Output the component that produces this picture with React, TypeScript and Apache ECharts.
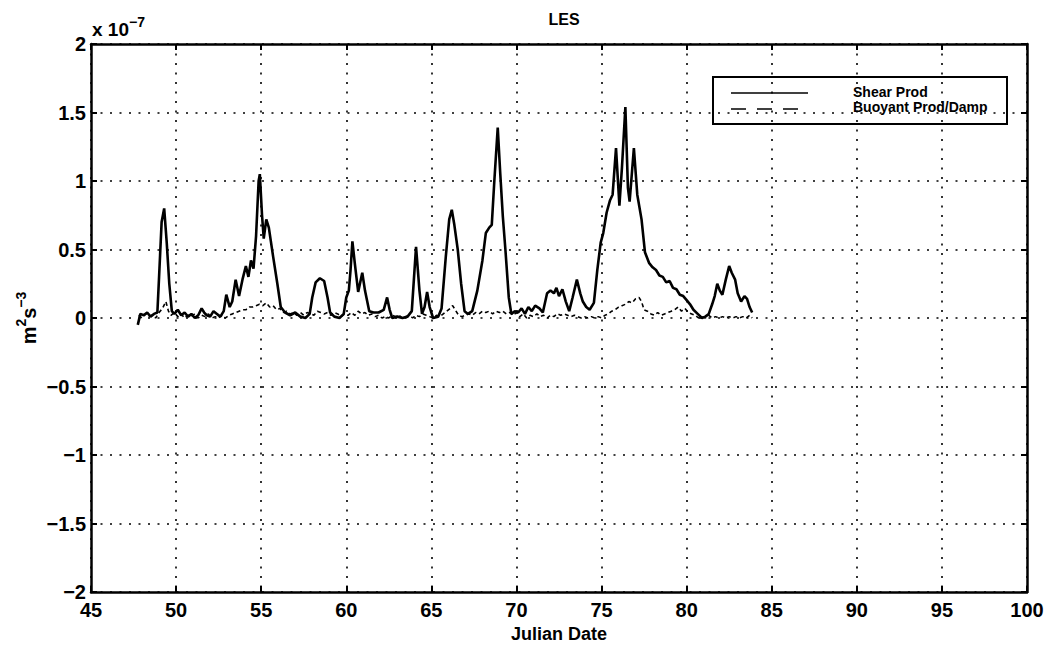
import React, { useEffect, useRef } from "react";
import * as echarts from "echarts";

// Values in units of 1e-7 m^2 s^-3
const shearProd: [number, number][] = [
  [47.75, -0.05], [47.9, 0.03], [48.1, 0.02], [48.3, 0.04], [48.5, 0.01], [48.7, 0.03], [48.9, 0.04],
  [49.0, 0.3], [49.15, 0.7], [49.3, 0.8], [49.45, 0.55], [49.6, 0.25], [49.75, 0.05], [49.9, 0.03],
  [50.1, 0.06], [50.3, 0.02], [50.5, 0.04], [50.7, 0.01], [50.9, 0.03], [51.1, 0.0], [51.3, 0.02],
  [51.5, 0.07], [51.65, 0.04], [51.8, 0.02], [52.0, 0.01], [52.2, 0.05], [52.4, 0.03], [52.6, 0.01],
  [52.8, 0.05], [52.95, 0.17], [53.15, 0.08], [53.3, 0.12], [53.5, 0.28], [53.7, 0.16], [53.9, 0.28],
  [54.1, 0.38], [54.25, 0.3], [54.4, 0.42], [54.55, 0.36], [54.7, 0.6], [54.85, 1.0], [54.92, 1.05],
  [55.05, 0.75], [55.15, 0.58], [55.3, 0.72], [55.45, 0.66], [55.7, 0.45], [55.95, 0.25], [56.15, 0.08],
  [56.4, 0.04], [56.7, 0.02], [57.0, 0.04], [57.3, 0.01], [57.6, 0.0], [57.85, 0.03], [58.0, 0.15],
  [58.2, 0.26], [58.45, 0.29], [58.7, 0.27], [58.9, 0.15], [59.05, 0.04], [59.3, 0.01], [59.6, 0.0],
  [59.85, 0.03], [60.0, 0.15], [60.15, 0.2], [60.25, 0.35], [60.36, 0.56], [60.5, 0.4], [60.7, 0.19],
  [60.94, 0.33], [61.1, 0.2], [61.35, 0.05], [61.6, 0.04], [61.9, 0.04], [62.2, 0.06], [62.4, 0.15],
  [62.55, 0.06], [62.7, 0.0], [63.0, 0.01], [63.3, 0.0], [63.6, 0.01], [63.85, 0.05], [64.1, 0.52],
  [64.3, 0.2], [64.45, 0.03], [64.6, 0.08], [64.75, 0.19], [64.9, 0.08], [65.1, 0.0], [65.4, 0.01],
  [65.6, 0.07], [65.85, 0.45], [66.05, 0.72], [66.2, 0.79], [66.35, 0.68], [66.55, 0.5], [66.75, 0.25],
  [66.95, 0.05], [67.15, 0.03], [67.4, 0.05], [67.7, 0.2], [68.0, 0.42], [68.2, 0.62], [68.4, 0.66],
  [68.55, 0.68], [68.7, 1.0], [68.9, 1.39], [69.05, 1.05], [69.2, 0.74], [69.35, 0.5], [69.55, 0.15],
  [69.7, 0.03], [69.9, 0.05], [70.1, 0.04], [70.3, 0.07], [70.5, 0.03], [70.7, 0.08], [70.9, 0.05],
  [71.1, 0.09], [71.35, 0.07], [71.55, 0.04], [71.8, 0.18], [72.0, 0.2], [72.2, 0.18], [72.35, 0.22],
  [72.5, 0.16], [72.7, 0.21], [72.9, 0.12], [73.1, 0.05], [73.3, 0.15], [73.55, 0.28], [73.75, 0.18],
  [73.9, 0.12], [74.1, 0.08], [74.3, 0.06], [74.55, 0.11], [74.75, 0.35], [74.95, 0.55], [75.1, 0.62],
  [75.3, 0.77], [75.5, 0.86], [75.65, 0.9], [75.85, 1.24], [76.05, 0.82], [76.2, 1.1], [76.4, 1.54],
  [76.55, 0.95], [76.65, 0.85], [76.9, 1.24], [77.1, 0.9], [77.35, 0.72], [77.55, 0.48], [77.8, 0.4],
  [78.0, 0.37], [78.2, 0.35], [78.4, 0.31], [78.6, 0.3], [78.8, 0.26], [79.0, 0.27], [79.2, 0.22],
  [79.4, 0.21], [79.6, 0.17], [79.8, 0.16], [80.0, 0.13], [80.2, 0.1], [80.4, 0.06], [80.65, 0.03],
  [80.9, 0.0], [81.1, 0.01], [81.3, 0.03], [81.5, 0.1], [81.65, 0.16], [81.8, 0.25], [81.95, 0.2],
  [82.1, 0.17], [82.3, 0.28], [82.5, 0.38], [82.65, 0.33], [82.85, 0.28], [83.0, 0.18], [83.2, 0.12],
  [83.4, 0.16], [83.55, 0.14], [83.7, 0.08], [83.85, 0.04],
];

const buoyantProd: [number, number][] = [
  [47.8, 0.02], [48.0, 0.0], [48.2, 0.03], [48.4, 0.01], [48.6, 0.02], [48.8, 0.0], [49.0, 0.04],
  [49.2, 0.07], [49.4, 0.12], [49.55, 0.05], [49.7, 0.02], [49.9, 0.04], [50.1, 0.01], [50.3, 0.03],
  [50.5, 0.0], [50.7, 0.02], [50.9, 0.01], [51.1, 0.03], [51.3, 0.0], [51.5, 0.02], [51.7, 0.01],
  [51.9, 0.03], [52.1, 0.0], [52.3, 0.01], [52.5, 0.0], [52.7, 0.02], [52.9, 0.0], [53.1, 0.02],
  [53.3, 0.03], [53.5, 0.04], [53.7, 0.05], [53.9, 0.06], [54.1, 0.06], [54.3, 0.08], [54.5, 0.08],
  [54.7, 0.09], [54.9, 0.1], [55.1, 0.09], [55.3, 0.11], [55.5, 0.08], [55.7, 0.09], [55.9, 0.06],
  [56.1, 0.07], [56.3, 0.04], [56.5, 0.05], [56.7, 0.03], [56.9, 0.04], [57.1, 0.02], [57.3, 0.04],
  [57.5, 0.02], [57.7, 0.04], [57.9, 0.03], [58.1, 0.02], [58.3, 0.05], [58.5, 0.04], [58.7, 0.03],
  [58.9, 0.04], [59.1, 0.02], [59.3, 0.04], [59.5, 0.03], [59.7, 0.01], [59.9, 0.03], [60.1, 0.02],
  [60.3, 0.04], [60.5, 0.02], [60.7, 0.05], [60.9, 0.03], [61.1, 0.04], [61.3, 0.02], [61.5, 0.03],
  [61.7, 0.01], [61.9, 0.02], [62.1, 0.0], [62.3, 0.01], [62.5, 0.0], [62.7, 0.02], [62.9, 0.01],
  [63.1, 0.02], [63.3, 0.0], [63.5, 0.01], [63.7, 0.02], [63.9, 0.0], [64.1, 0.02], [64.3, 0.01],
  [64.5, 0.03], [64.7, 0.02], [64.9, 0.01], [65.1, 0.0], [65.3, 0.02], [65.5, 0.01], [65.7, 0.03],
  [65.9, 0.05], [66.1, 0.07], [66.25, 0.09], [66.4, 0.06], [66.6, 0.02], [66.8, 0.01], [67.0, 0.02],
  [67.2, 0.03], [67.4, 0.02], [67.6, 0.04], [67.8, 0.03], [68.0, 0.05], [68.2, 0.04], [68.4, 0.05],
  [68.6, 0.03], [68.8, 0.05], [69.0, 0.04], [69.2, 0.05], [69.4, 0.03], [69.6, 0.04], [69.8, 0.02],
  [70.0, 0.04], [70.2, 0.01], [70.4, 0.03], [70.6, 0.0], [70.8, 0.02], [71.0, 0.01], [71.2, 0.03],
  [71.4, 0.01], [71.6, 0.02], [71.8, 0.0], [72.0, 0.02], [72.2, 0.01], [72.4, 0.03], [72.6, 0.02],
  [72.8, 0.03], [73.0, 0.02], [73.2, 0.01], [73.4, 0.02], [73.6, 0.01], [73.8, 0.0], [74.0, 0.01],
  [74.2, 0.0], [74.4, 0.01], [74.6, 0.0], [74.8, 0.01], [75.0, 0.0], [75.2, 0.02], [75.4, 0.03],
  [75.6, 0.05], [75.8, 0.06], [76.0, 0.08], [76.2, 0.09], [76.4, 0.1], [76.6, 0.12], [76.8, 0.11],
  [77.0, 0.14], [77.2, 0.15], [77.35, 0.12], [77.5, 0.06], [77.7, 0.05], [77.9, 0.03], [78.1, 0.02],
  [78.3, 0.04], [78.5, 0.02], [78.7, 0.03], [78.9, 0.04], [79.1, 0.05], [79.3, 0.06], [79.5, 0.08],
  [79.7, 0.05], [79.9, 0.07], [80.1, 0.04], [80.3, 0.03], [80.5, 0.02], [80.7, 0.0], [80.9, 0.01],
  [81.1, 0.0], [81.3, 0.02], [81.5, 0.0], [81.7, 0.01], [81.9, 0.0], [82.1, 0.01], [82.3, 0.0],
  [82.5, 0.01], [82.7, 0.0], [82.9, 0.01], [83.1, 0.0], [83.3, 0.01], [83.5, 0.0], [83.7, 0.02],
  [83.85, 0.0],
];

const seriesNames = ["Shear Prod", "Buoyant Prod/Damp"];
const titleText = "LES";
const xName = "Julian Date";

const FONT = "'Liberation Sans', Arial, Helvetica, sans-serif";

export default function App() {
  const ref = useRef<HTMLDivElement>(null);

  useEffect(() => {
    document.body.style.margin = "0";
    const chart = echarts.init(ref.current!, null, { renderer: "svg" });
    const fmtY = (v: number) => (v < 0 ? "\u2212" + Math.abs(v) : String(v));
    const dotted = { color: "#000", width: 1.6, type: [2, 7.5] as number[] };
    chart.setOption({
      animation: false,
      backgroundColor: "#fff",
      textStyle: { fontFamily: FONT },
      title: {
        text: titleText,
        left: 559,
        textAlign: "center",
        top: 6,
        textStyle: { fontFamily: FONT, fontSize: 16, fontWeight: "bold", color: "#000" },
      },
      grid: { left: 91, right: 22, top: 44, bottom: 59, containLabel: false },
      xAxis: [
        {
          type: "value",
          min: 45,
          max: 100,
          interval: 5,
          name: xName,
          nameLocation: "middle",
          nameGap: 33,
          nameTextStyle: { fontFamily: FONT, fontSize: 18, fontWeight: "bold", color: "#000" },
          axisLine: { show: true, onZero: false, lineStyle: { color: "#000", width: 2.5 } },
          axisTick: { show: true, inside: true, length: 6, lineStyle: { color: "#000", width: 2 } },
          axisLabel: { fontFamily: FONT, fontSize: 20, fontWeight: "bold", color: "#000", margin: 8 },
          splitLine: { show: true, lineStyle: dotted },
        },
        {
          type: "value",
          position: "top",
          min: 45,
          max: 100,
          interval: 5,
          axisLine: { show: true, onZero: false, lineStyle: { color: "#000", width: 2.5 } },
          axisTick: { show: true, inside: true, length: 6, lineStyle: { color: "#000", width: 2 } },
          axisLabel: { show: false },
          splitLine: { show: false },
        },
      ],
      yAxis: [
        {
          type: "value",
          min: -2,
          max: 2,
          interval: 0.5,
          axisLine: { show: true, onZero: false, lineStyle: { color: "#000", width: 2.5 } },
          axisTick: { show: true, inside: true, length: 6, lineStyle: { color: "#000", width: 2 } },
          axisLabel: { fontFamily: FONT, fontSize: 20, fontWeight: "bold", color: "#000", margin: 5, formatter: fmtY },
          splitLine: { show: true, lineStyle: dotted },
        },
        {
          type: "value",
          position: "right",
          min: -2,
          max: 2,
          interval: 0.5,
          axisLine: { show: true, onZero: false, lineStyle: { color: "#000", width: 2.5 } },
          axisTick: { show: true, inside: true, length: 6, lineStyle: { color: "#000", width: 2 } },
          axisLabel: { show: false },
          splitLine: { show: false },
        },
      ],
      series: [
        {
          name: seriesNames[0],
          type: "line",
          data: shearProd,
          showSymbol: false,
          smooth: false,
          lineStyle: { color: "#000", width: 2.6 },
          z: 3,
        },
        {
          name: seriesNames[1],
          type: "line",
          data: buoyantProd,
          showSymbol: false,
          lineStyle: { color: "#000", width: 1.6, type: [4, 3] },
          z: 2,
        },
      ],
      graphic: [
        {
          type: "text",
          left: 92,
          top: 12,
          style: {
            text: "{a|x 10}{b|\u22127}",
            fill: "#000",
            rich: {
              a: { fontFamily: FONT, fontSize: 19, fontWeight: "bold", fill: "#000", verticalAlign: "bottom", lineHeight: 24, padding: [8, 0, 0, 0] },
              b: { fontFamily: FONT, fontSize: 14, fontWeight: "bold", fill: "#000", verticalAlign: "top", lineHeight: 14 },
            },
          },
        },
        {
          type: "text",
          x: 25,
          y: 318,
          rotation: Math.PI / 2,
          style: {
            text: "{a|m}{b|2}{a|s}{b|\u22123}",
            align: "center",
            verticalAlign: "middle",
            fill: "#000",
            rich: {
              a: { fontFamily: FONT, fontSize: 20, fontWeight: "bold", fill: "#000", padding: [8, 0, 0, 0] },
              b: { fontFamily: FONT, fontSize: 14, fontWeight: "bold", fill: "#000", padding: [0, 0, 8, 0] },
            },
          },
        },
        {
          type: "group",
          left: 712,
          top: 76,
          children: [
            {
              type: "rect",
              shape: { x: 0, y: 0, width: 294, height: 47 },
              style: { fill: "#fff", stroke: "#000", lineWidth: 2 },
            },
            {
              type: "line",
              shape: { x1: 18, y1: 16, x2: 95, y2: 16 },
              style: { stroke: "#000", lineWidth: 1.6 },
            },
            {
              type: "line",
              shape: { x1: 18, y1: 32, x2: 95, y2: 32 },
              style: { stroke: "#000", lineWidth: 1.6, lineDash: [15, 11] },
            },
            {
              type: "text",
              x: 140,
              y: 15,
              style: { text: seriesNames[0], fontFamily: FONT, fontSize: 14, fontWeight: "bold", fill: "#000", verticalAlign: "middle" },
            },
            {
              type: "text",
              x: 140,
              y: 30,
              style: { text: seriesNames[1], fontFamily: FONT, fontSize: 14, fontWeight: "bold", fill: "#000", verticalAlign: "middle" },
            },
          ],
        },
      ],
    });
    return () => chart.dispose();
  }, []);

  return <div ref={ref} style={{ width: 1049, height: 651 }} />;
}
